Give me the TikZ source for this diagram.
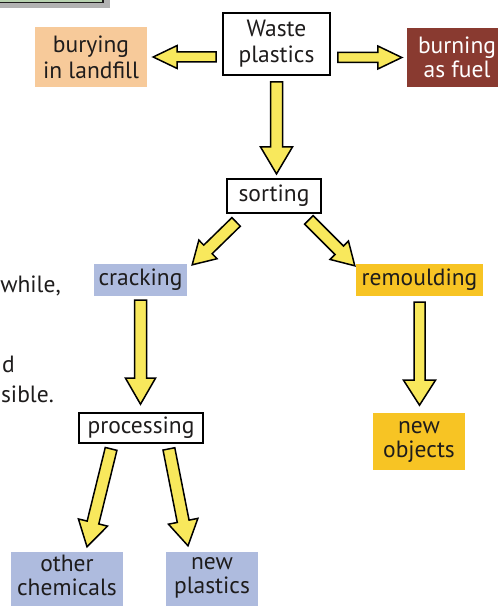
\documentclass[tikz,border=0pt]{standalone}
\usepackage{fontspec}
\setmainfont{PT Sans}
\usetikzlibrary{calc}

\definecolor{arrowfill}{RGB}{248,232,92}
\definecolor{peach}{RGB}{247,202,154}
\definecolor{rust}{RGB}{137,58,48}
\definecolor{lavender}{RGB}{174,187,222}
\definecolor{gold}{RGB}{247,196,36}
\definecolor{ink}{RGB}{30,28,28}
\definecolor{sage}{RGB}{184,210,176}
\definecolor{shadowgrey}{RGB}{178,178,178}

\tikzset{
  boxtext/.style={font=\fontsize{23.5bp}{26bp}\selectfont, text=ink, align=center, inner sep=0pt},
  tightlines/.style={font=\fontsize{23.5bp}{24bp}\selectfont},
  whitebox/.style={boxtext, draw=black, line width=1.8bp, fill=white},
  fillbox/.style={boxtext, fill=#1},
  pagetext/.style={font=\fontsize{23.5bp}{26bp}\selectfont, text=ink, inner sep=0pt, anchor=base east},
  flowarrowstyle/.style={draw=black, line width=1.5bp, fill=arrowfill, line join=miter},
}

% block arrow: #1 tail, #2 tip, #3 shaft half width, #4 head half width, #5 head length
\newcommand{\flowarrow}[5]{%
  \coordinate (hb) at ($(#2)!#5!(#1)$);
  \draw[flowarrowstyle]
    ($(#1)!#3!90:(#2)$) -- ($(hb)!#3!90:(#2)$) -- ($(hb)!#4!90:(#2)$) -- (#2)
    -- ($(hb)!#4!-90:(#2)$) -- ($(hb)!#3!-90:(#2)$) -- ($(#1)!#3!-90:(#2)$) -- cycle;}

\begin{document}
\begin{tikzpicture}[x=1bp,y=-1bp]
\useasboundingbox (0,0) rectangle (498,606);
\fill[white] (0,0) rectangle (498,606);

% corner of the neighbouring panel
\fill[shadowgrey] (-5,-5) rectangle (110,8);
\filldraw[fill=sage, draw=ink, line width=1.2bp] (-5,-5) rectangle (103,2.5);

% text running in from the page column
\node[pagetext] (line1) at (61,292) {while,};
\node[pagetext] (line2) at (15,372) {d};
\node[pagetext] (line3) at (54,402) {sible.};

% boxes
\node[whitebox, minimum width=107bp, minimum height=62bp] (waste) at (276.5,44) {Waste\\plastics};
\node[fillbox=peach, minimum width=112bp, minimum height=60bp] (bury) at (91,57) {burying\\in landfill};
\node[fillbox=rust, text=white, tightlines, minimum width=100bp, minimum height=59bp] (burn) at (457,57.5) {burning\\as fuel};
\node[whitebox, minimum width=94bp, minimum height=34bp] (sorting) at (274,196) {sorting};
\node[fillbox=lavender, minimum width=93bp, minimum height=32bp] (cracking) at (140.5,280) {cracking};
\node[fillbox=gold, minimum width=127bp, minimum height=32bp] (remould) at (419.5,280) {remoulding};
\node[whitebox, minimum width=124bp, minimum height=30bp] (processing) at (141,428) {processing};
\node[fillbox=gold, tightlines, minimum width=92bp, minimum height=57bp] (newobj) at (419,441.5) {new\\objects};
\node[fillbox=lavender, tightlines, text depth=14bp, minimum width=112bp, minimum height=60bp] (otherchem) at (67,582) {other\\chemicals};
\node[fillbox=lavender, tightlines, text depth=14bp, minimum width=92bp, minimum height=60bp] (newplast) at (212,582) {new\\plastics};

% arrow end points
\coordinate (wb-tail) at ($(waste.west |- bury.east)+(-6,0)$);
\coordinate (wb-tip)  at ($(bury.east)+(6,0)$);
\coordinate (wf-tail) at ($(waste.east |- burn.west)+(7,0)$);
\coordinate (wf-tip)  at ($(burn.west)+(-5,0)$);
\coordinate (ws-tail) at ($(waste.south)+(0,6)$);
\coordinate (ws-tip)  at ($(waste.south)+(0,98)$);
\coordinate (sc-tail) at ($(sorting.south west)+(10,8)$);
\coordinate (sc-tip)  at ($(cracking.north east)+(5,1)$);
\coordinate (sr-tail) at ($(sorting.south east)+(-13,6)$);
\coordinate (sr-tip)  at ($(remould.north west)+(-1,2)$);
\coordinate (cp-tail) at ($(cracking.south)+(0,4)$);
\coordinate (cp-tip)  at ($(cracking.south)+(0,108)$);
\coordinate (rn-tail) at ($(remould.south)+(0,6)$);
\coordinate (rn-tip)  at ($(remould.south)+(0,109)$);
\coordinate (po-tail) at ($(processing.south west)+(33,5)$);
\coordinate (po-tip)  at ($(otherchem.north)+(20,-5)$);
\coordinate (pn-tail) at ($(processing.south east)+(-35,5)$);
\coordinate (pn-tip)  at ($(newplast.north)+(-24,-6)$);

% arrows
\flowarrow{wb-tail}{wb-tip}{5bp}{11.5bp}{24bp}
\flowarrow{wf-tail}{wf-tip}{5bp}{11.5bp}{24bp}
\flowarrow{ws-tail}{ws-tip}{6bp}{16bp}{27bp}
\flowarrow{sc-tail}{sc-tip}{6bp}{13bp}{22bp}
\flowarrow{sr-tail}{sr-tip}{6bp}{13bp}{22bp}
\flowarrow{cp-tail}{cp-tip}{6bp}{15bp}{26bp}
\flowarrow{rn-tail}{rn-tip}{5.5bp}{16bp}{25bp}
\flowarrow{po-tail}{po-tip}{6bp}{15bp}{25bp}
\flowarrow{pn-tail}{pn-tip}{6bp}{15bp}{25bp}
\end{tikzpicture}
\end{document}
